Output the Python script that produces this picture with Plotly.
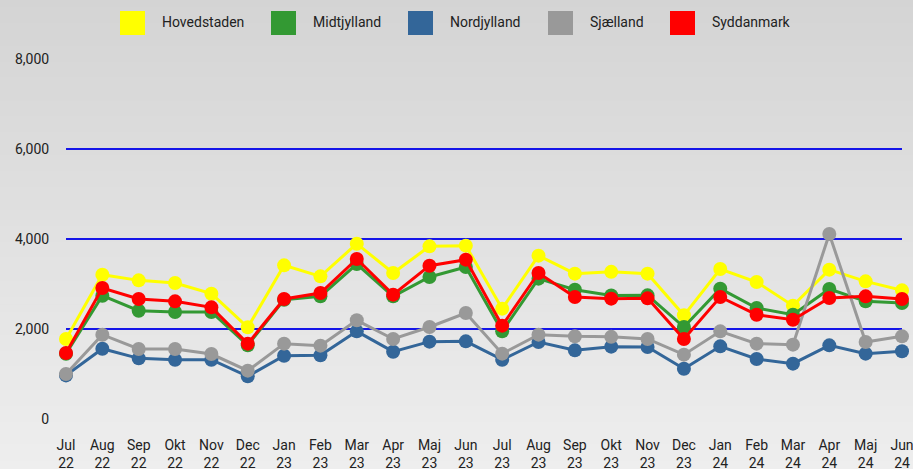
import plotly.graph_objects as go

months = ["Jul<br>22", "Aug<br>22", "Sep<br>22", "Okt<br>22", "Nov<br>22", "Dec<br>22",
          "Jan<br>23", "Feb<br>23", "Mar<br>23", "Apr<br>23", "Maj<br>23", "Jun<br>23",
          "Jul<br>23", "Aug<br>23", "Sep<br>23", "Okt<br>23", "Nov<br>23", "Dec<br>23",
          "Jan<br>24", "Feb<br>24", "Mar<br>24", "Apr<br>24", "Maj<br>24", "Jun<br>24"]

hovedstaden = [1778, 3207, 3081, 3022, 2785, 2037, 3415, 3170, 3896, 3244, 3837, 3852,
               2452, 3630, 3230, 3270, 3230, 2304, 3333, 3044, 2519, 3319, 3059, 2859]
midtjylland = [1450, 2740, 2407, 2378, 2378, 1640, 2650, 2726, 3444, 2726, 3156, 3378,
               1948, 3119, 2874, 2745, 2748, 2044, 2896, 2467, 2318, 2889, 2615, 2578]
nordjylland = [969, 1562, 1348, 1318, 1318, 948, 1407, 1415, 1948, 1496, 1719, 1726,
               1318, 1711, 1526, 1608, 1600, 1118, 1615, 1333, 1230, 1637, 1452, 1504]
sjaelland = [1000, 1873, 1556, 1556, 1444, 1074, 1674, 1630, 2193, 1778, 2044, 2356,
             1452, 1874, 1837, 1826, 1778, 1430, 1948, 1674, 1652, 4111, 1711, 1837]
syddanmark = [1467, 2911, 2667, 2615, 2481, 1674, 2667, 2800, 3556, 2763, 3407, 3541,
              2074, 3244, 2711, 2674, 2681, 1778, 2711, 2318, 2207, 2689, 2726, 2667]

series_names = ["Hovedstaden", "Midtjylland", "Nordjylland", "Sjælland", "Syddanmark"]
series_values = [hovedstaden, midtjylland, nordjylland, sjaelland, syddanmark]
colors = ["#ffff00", "#339933", "#336699", "#999999", "#ff0000"]

y_ticks = [0, 2000, 4000, 6000, 8000]

W, H = 913, 469
L, R, T, B = 66, 11, 58, 49
plot_h = H - T - B
plot_w = W - L - R
# keep 45 px per 1000 with a tiny pad so edge gridlines are drawn
pad = (plot_h * 8000 / 360 - 8000) / 2


def py_to_paper(py):
    return 1 + (T - py) / plot_h


def px_to_paper(px):
    return (px - L) / plot_w


fig = go.Figure()
for name, vals, col in zip(series_names, series_values, colors):
    fig.add_trace(go.Scatter(
        x=months, y=vals, name=name, mode="lines+markers",
        line=dict(color=col, width=3),
        marker=dict(color=col, size=14),
        cliponaxis=False, showlegend=False,
    ))

shapes = []
# background gradient bands
n_bands = 60
top_c, bot_c = 212, 238
for i in range(n_bands):
    y_top_px = H * i / n_bands
    y_bot_px = H * (i + 1) / n_bands
    c = round(top_c + (bot_c - top_c) * (i + 0.5) / n_bands)
    shapes.append(dict(type="rect", xref="paper", yref="paper", x0=-1, x1=2,
                       y0=py_to_paper(y_bot_px), y1=py_to_paper(y_top_px) + 0.002,
                       line=dict(width=0),
                       fillcolor=f"rgb({c},{c},{c})", layer="below"))

# custom legend
sw_x = [120, 271, 408, 548, 670]
sw_w = 25
sw_top, sw_bot = 11, 35
annotations = []
for name, col, xs in zip(series_names, colors, sw_x):
    shapes.append(dict(type="rect", xref="paper", yref="paper",
                       x0=px_to_paper(xs), x1=px_to_paper(xs + sw_w),
                       y0=py_to_paper(sw_bot), y1=py_to_paper(sw_top),
                       line=dict(width=0), fillcolor=col))
    annotations.append(dict(text=name, xref="paper", yref="paper",
                            x=px_to_paper(xs + sw_w + 15), y=py_to_paper(22),
                            xanchor="left", yanchor="middle", showarrow=False,
                            font=dict(family="Roboto", size=14, color="#222222")))

fig.update_layout(
    width=W, height=H,
    margin=dict(l=L, r=R, t=T, b=B, autoexpand=False),
    paper_bgcolor="#e0e0e0",
    plot_bgcolor="rgba(0,0,0,0)",
    font=dict(family="Roboto", size=14, color="#222222"),
    shapes=shapes, annotations=annotations,
    showlegend=False,
    xaxis=dict(range=[0, 23], showgrid=False, zeroline=False, showline=False,
               automargin=False,
               ticks="outside", ticklen=12, tickcolor="rgba(0,0,0,0)",
               tickfont=dict(family="Roboto", size=14, color="#222222")),
    yaxis=dict(range=[-pad, 8000 + pad], tickvals=y_ticks, tickformat=",d",
               automargin=False,
               showgrid=True, gridcolor="#1515e8", gridwidth=1.5,
               zeroline=False, showline=False,
               ticks="outside", ticklen=13, tickcolor="rgba(0,0,0,0)",
               tickfont=dict(family="Roboto", size=14, color="#222222")),
)

fig.write_html("out.html",
               config={"displayModeBar": False},
               post_script="document.body.style.margin='0';document.body.style.overflow='hidden';")
